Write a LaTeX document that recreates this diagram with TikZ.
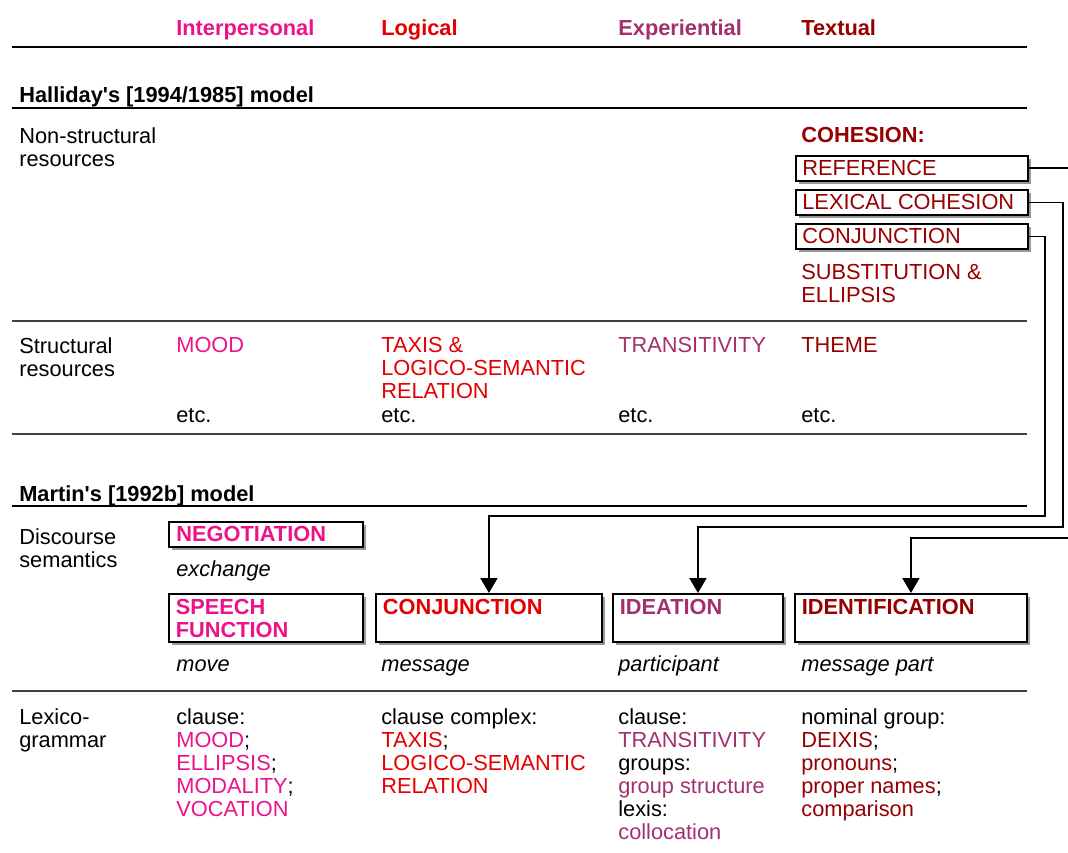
\documentclass[tikz,border=0pt]{standalone}
\usepackage{fontspec}
\setmainfont{Liberation Sans}
\usetikzlibrary{arrows.meta,shadows}

\definecolor{ip}{RGB}{238,18,137}
\definecolor{lg}{RGB}{228,0,0}
\definecolor{ex}{RGB}{163,48,110}
\definecolor{tx}{RGB}{150,0,0}

\newcommand\txtsize{\fontsize{12.4pt}{13.09pt}\selectfont}

\tikzset{
  every node/.style={font=\txtsize, inner sep=0},
  hd/.style={anchor=base west, font=\txtsize\bfseries},
  lbl/.style={anchor=base west},
  it/.style={anchor=base west, font=\txtsize\itshape},
  txt/.style={anchor=north west, align=left},
  box/.style={draw, line width=1.1pt, fill=white, anchor=north west, minimum width=#1,
    general shadow={fill=black!40, shadow xshift=0.06cm, shadow yshift=-0.06cm}},
  blab/.style={anchor=west, xshift=0.14cm},
  mlab/.style={anchor=north west, align=left, xshift=0.15cm, yshift=-0.12cm,
    font=\txtsize\bfseries},
  rowline/.style={line width=0.6pt, black!75},
  conn/.style={line width=1.1pt, -{Triangle[width=0.34cm, length=0.3cm]}}
}

\begin{document}
\begin{tikzpicture}[x=0.02cm, y=-0.02cm]
\useasboundingbox (0,0) rectangle (1068,852);
\clip (0,0) rectangle (1068,852);

% metafunction headers
\node[hd, text=ip] (hInt) at (176,35) {Interpersonal};
\node[hd, text=lg] (hLog) at (381,35) {Logical};
\node[hd, text=ex] (hExp) at (618,35) {Experiential};
\node[hd, text=tx] (hTxt) at (801,35) {Textual};
\draw[line width=1.3pt] (12,47) -- (1027,47);

% Halliday
\node[hd] (hall) at (19,102) {Halliday\textquotesingle s [1994/1985] model};
\draw[line width=0.6pt] (12,108) -- (1027,108);

\node[txt] (nonstr) at (19,127) {Non-structural\\resources};
\node[hd, text=tx] (cohesion) at (801,142) {COHESION:};
\node[box=4.64cm, minimum height=0.5cm, label={[blab, text=tx]west:REFERENCE}] (refH) at (795,155) {}; % cohesion
\node[box=4.64cm, minimum height=0.5cm, label={[blab, text=tx]west:LEXICAL COHESION}] (lexH) at (795,189) {};
\node[box=4.64cm, minimum height=0.5cm, label={[blab, text=tx]west:CONJUNCTION}] (conjH) at (795,223) {};
\node[txt, text=tx] (subst) at (801,264) {SUBSTITUTION \&\\ELLIPSIS};
\draw[rowline] (12,321) -- (1027,321);

\node[txt] (str) at (19,337) {Structural\\resources};
\node[txt, text=ip] (mood) at (176,337) {MOOD};
\node[txt, text=lg] (taxis) at (381,337) {TAXIS \&\\LOGICO-SEMANTIC\\RELATION};
\node[txt, text=ex] (trans) at (618,337) {TRANSITIVITY};
\node[txt, text=tx] (theme) at (801,337) {THEME};
\foreach \x/\n in {176/a, 381/b, 618/c, 801/d}
  \node[lbl] (etc\n) at (\x,422) {etc.};
\draw[rowline] (12,434) -- (1027,434);

% Martin
\node[hd] (mart) at (19,501) {Martin\textquotesingle s [1992b] model};
\draw[line width=0.6pt] (12,506) -- (1027,506);

\node[txt] (disc) at (19,528) {Discourse\\semantics};
\node[box=3.88cm, minimum height=0.5cm, label={[blab, xshift=0.02cm, text=ip, font=\txtsize\bfseries]west:NEGOTIATION}] (negM) at (168,521) {};
\node[it] (exch) at (176,576) {exchange};
\node[box=3.88cm, minimum height=0.96cm, label={[mlab, text=ip]north west:SPEECH\\FUNCTION}] (speechM) at (168,593) {};
\node[box=4.52cm, minimum height=0.96cm, label={[mlab, text=lg]north west:CONJUNCTION}] (conjM) at (375,593) {};
\node[box=3.4cm, minimum height=0.96cm, label={[mlab, text=ex]north west:IDEATION}] (ideaM) at (612,593) {};
\node[box=4.64cm, minimum height=0.96cm, label={[mlab, text=tx]north west:IDENTIFICATION}] (identM) at (794,593) {};
\node[it] (move) at (176,671) {move};
\node[it] (msg) at (381,671) {message};
\node[it] (part) at (618,671) {participant};
\node[it] (msgpart) at (801,671) {message part};
\draw[rowline] (12,691) -- (1027,691);

\node[txt] (lexgr) at (19,708) {Lexico-\\grammar};
\node[txt] (lgInt) at (176,708) {clause:\\\textcolor{ip}{MOOD};\\\textcolor{ip}{ELLIPSIS};\\\textcolor{ip}{MODALITY};\\\textcolor{ip}{VOCATION}};
\node[txt] (lgLog) at (381,708) {clause complex:\\\textcolor{lg}{TAXIS};\\\textcolor{lg}{LOGICO-SEMANTIC}\\\textcolor{lg}{RELATION}};
\node[txt] (lgExp) at (618,708) {clause:\\\textcolor{ex}{TRANSITIVITY}\\groups:\\\textcolor{ex}{group structure}\\lexis:\\\textcolor{ex}{collocation}};
\node[txt] (lgTxt) at (801,708) {nominal group:\\\textcolor{tx}{DEIXIS};\\\textcolor{tx}{pronouns};\\\textcolor{tx}{proper names};\\\textcolor{tx}{comparison}};

% cohesion -> discourse semantics
\draw[conn] (conjH.east) -| (1045,516) -| (conjM.north);
\draw[conn] (lexH.east) -| (1063,527) -| (ideaM.north);
\draw[conn] (refH.east) -| (1085,538) -| (identM.north);
\end{tikzpicture}
\end{document}
